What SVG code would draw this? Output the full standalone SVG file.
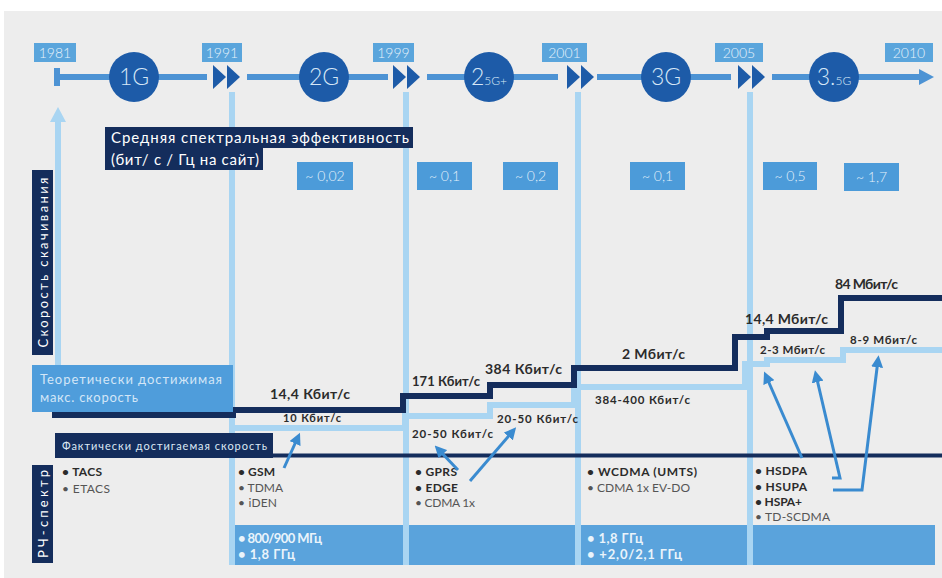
<svg xmlns="http://www.w3.org/2000/svg" width="942" height="578" viewBox="0 0 942 578">
<style>
.t{font-family:Lato,"Open Sans","Liberation Sans",sans-serif}
.yr{font-size:14px;fill:#e6f2fb;text-anchor:middle;font-weight:300}
.yb{fill:#5aa5dc}
.circ{fill:#1d5ba8}
.ct{font-size:23px;fill:#d6e7f7;text-anchor:middle;font-weight:300}
.tl{stroke:#4d93d4;stroke-width:6;fill:none}
.tri{fill:#1d5ba8}
.vl{stroke:#a9d5f2;stroke-width:6}
.navy{fill:#142d5c}
.sb{fill:#4c9bd9}
.st{font-size:14px;fill:#e3f0fa;text-anchor:middle;font-weight:300}
.sp{font-weight:700;fill:#2b2b2b}
.li{font-size:12px;fill:#555}
.lb{font-size:12px;fill:#2b2b2b;font-weight:700}
.band{fill:#5aa3dc}
.bt{font-size:13px;fill:#eaf4fb;font-weight:700}
.arr{stroke:#3a8bd0;stroke-width:3;fill:none;marker-end:url(#ah)}
</style>
<defs>
<marker id="ah" viewBox="0 0 10 10" refX="6" refY="5" markerWidth="4" markerHeight="4" orient="auto" markerUnits="strokeWidth">
<path d="M0,0 L10,5 L0,10 z" fill="#3a8bd0"/>
</marker>
</defs>
<rect x="0" y="0" width="942" height="578" fill="#ffffff"/>
<rect x="4" y="11" width="938" height="567" fill="#ededed"/>

<g id="timeline">
<line x1="57" y1="68" x2="57" y2="86" stroke="#4d93d4" stroke-width="6"/>
<path class="tl" d="M57,77 H207 M247,77 H388 M427,77 H558 M597,77 H731 M772,77 H922"/>
<polygon points="919,69 934,77 919,85" fill="#4d93d4"/>
<polygon class="tri" points="213,65 226,77 213,89"/>
<polygon class="tri" points="227,65 240,77 227,89"/>
<polygon class="tri" points="393,65 406,77 393,89"/>
<polygon class="tri" points="407,65 420,77 407,89"/>
<polygon class="tri" points="567,65 580,77 567,89"/>
<polygon class="tri" points="581,65 594,77 581,89"/>
<polygon class="tri" points="738,65 751,77 738,89"/>
<polygon class="tri" points="752,65 765,77 752,89"/>
</g>

<g id="years">
<rect class="yb" x="34" y="43" width="42" height="19"/><text class="t yr" x="55" y="58">1981</text>
<rect class="yb" x="202" y="43" width="40" height="19"/><text class="t yr" x="222" y="58">1991</text>
<rect class="yb" x="373" y="43" width="41" height="19"/><text class="t yr" x="393.5" y="58">1999</text>
<rect class="yb" x="542" y="43" width="45" height="19"/><text class="t yr" x="564.5" y="58">2001</text>
<rect class="yb" x="715" y="43" width="48" height="19"/><text class="t yr" x="739" y="58">2005</text>
<rect class="yb" x="885" y="43" width="48" height="19"/><text class="t yr" x="909" y="58">2010</text>
</g>

<g id="gen-1G"><circle class="circ" cx="134" cy="77" r="25"/><text class="t ct" x="134" y="85">1G</text></g>
<g id="gen-2G"><circle class="circ" cx="324" cy="77" r="25"/><text class="t ct" x="324" y="85">2G</text></g>
<g id="gen-25G"><circle class="circ" cx="489" cy="77" r="25"/><text class="t ct" x="489" y="85">2<tspan font-size="12">5G+</tspan></text></g>
<g id="gen-3G"><circle class="circ" cx="666" cy="77" r="25"/><text class="t ct" x="666" y="85">3G</text></g>
<g id="gen-35G"><circle class="circ" cx="834" cy="77" r="25"/><text class="t ct" x="834" y="85">3.<tspan font-size="12">5G</tspan></text></g>

<g id="dividers">
<line class="vl" x1="232" y1="92" x2="232" y2="565"/>
<line class="vl" x1="406" y1="92" x2="406" y2="565"/>
<line class="vl" x1="578" y1="92" x2="578" y2="565"/>
<line class="vl" x1="750" y1="92" x2="750" y2="565"/>
<line class="vl" x1="58" y1="120" x2="58" y2="366"/>
<polygon points="50,122 58,107 66,122" fill="#a9d5f2"/>
</g>

<g id="spectral-title">
<path class="navy" d="M105,127 H413 V148 H263 V170 H105 z"/>
<text class="t" x="111" y="143" font-size="15" fill="#ffffff" textLength="298">Средняя спектральная эффективность</text>
<text class="t" x="111" y="165" font-size="15" fill="#ffffff" textLength="148">(бит/ с / Гц на сайт)</text>
</g>

<g id="spectral-values">
<rect class="sb" x="297" y="162" width="56" height="28"/><text class="t st" x="325" y="181">~ 0,02</text>
<rect class="sb" x="417" y="162" width="55" height="28"/><text class="t st" x="444.5" y="181">~ 0,1</text>
<rect class="sb" x="503" y="162" width="55" height="28"/><text class="t st" x="530.5" y="181">~ 0,2</text>
<rect class="sb" x="630" y="162" width="55" height="28"/><text class="t st" x="657.5" y="181">~ 0,1</text>
<rect class="sb" x="763" y="162" width="54" height="28"/><text class="t st" x="790" y="181">~ 0,5</text>
<rect class="sb" x="844" y="163" width="55" height="28"/><text class="t st" x="871.5" y="182">~ 1,7</text>
</g>

<g id="axis-labels">
<rect class="navy" x="32" y="170" width="21" height="185"/>
<text class="t" transform="translate(47.5,262.5) rotate(-90)" font-size="13" fill="#ffffff" text-anchor="middle" textLength="170">Скорость скачивания</text>
<rect class="navy" x="32" y="465" width="21" height="98"/>
<text class="t" transform="translate(47.5,514) rotate(-90)" font-size="13" fill="#ffffff" text-anchor="middle" textLength="88">РЧ-спектр</text>
</g>

<g id="speed-lines">
<polyline points="233,428 405,428 405,416 490,416 490,405 574,405 574,387 745,387 745,364 767,364 767,360 843,360 843,350 942,350" fill="none" stroke="#a9d5f2" stroke-width="6"/>
<polyline points="52,415 233,415 233,410 403,410 403,396 490,396 490,385 574,385 574,368 735,368 735,337 767,337 767,331 841,331 841,298 942,298" fill="none" stroke="#142d5c" stroke-width="6"/>
<line x1="55" y1="455.5" x2="942" y2="455.5" stroke="#142d5c" stroke-width="4"/>
</g>

<g id="theoretical-label">
<rect x="32" y="365" width="201" height="47" fill="#4f9ddb"/>
<text class="t" x="40" y="384" font-size="13" fill="#d3e6f7" textLength="182">Теоретически достижимая</text>
<text class="t" x="40" y="402" font-size="13" fill="#d3e6f7" textLength="98">макс. скорость</text>
</g>

<g id="actual-label">
<rect class="navy" x="55" y="433" width="218" height="25"/>
<text class="t" x="62" y="450" font-size="11" fill="#dce9f5" textLength="205">Фактически достигаемая скорость</text>
</g>

<g id="speeds">
<text class="t sp" x="270" y="399" font-size="14" textLength="80">14,4 Кбит/с</text>
<text class="t sp" x="283" y="422" font-size="11" textLength="58">10 Кбит/с</text>
<text class="t sp" x="412" y="386" font-size="13" textLength="68">171 Кбит/с</text>
<text class="t sp" x="485" y="374" font-size="14" textLength="77">384 Кбит/с</text>
<text class="t sp" x="412" y="438" font-size="11.5" textLength="81">20-50 Кбит/с</text>
<text class="t sp" x="497" y="423" font-size="11.5" textLength="81">20-50 Кбит/с</text>
<text class="t sp" x="622" y="359" font-size="14" textLength="63">2 Мбит/с</text>
<text class="t sp" x="595" y="404" font-size="11.5" textLength="95">384-400 Кбит/с</text>
<text class="t sp" x="745" y="324" font-size="14" textLength="83">14,4 Мбит/с</text>
<text class="t sp" x="760" y="354" font-size="11.5" textLength="65">2-3 Мбит/с</text>
<text class="t sp" x="835" y="289" font-size="14" textLength="63">84 Мбит/с</text>
<text class="t sp" x="850" y="344" font-size="11.5" textLength="67">8-9 Мбит/с</text>
</g>

<g id="bands">
<rect class="band" x="235" y="525" width="168" height="40"/>
<rect class="band" x="409" y="525" width="166" height="40"/>
<rect class="band" x="581" y="525" width="166" height="40"/>
<rect class="band" x="753" y="525" width="182" height="40"/>
<text class="t bt" x="238" y="543" textLength="84">• 800/900 МГц</text>
<text class="t bt" x="238" y="559" textLength="57">• 1,8 ГГц</text>
<text class="t bt" x="587" y="543" textLength="56">• 1,8 ГГц</text>
<text class="t bt" x="587" y="559" textLength="95">• +2,0/2,1 ГГц</text>
</g>

<g id="tech-1G">
<text class="t lb" x="62" y="476" textLength="40">• TACS</text>
<text class="t li" x="62" y="493" textLength="48">• ETACS</text>
</g>
<g id="tech-2G">
<text class="t lb" x="238" y="476" textLength="37">• GSM</text>
<text class="t li" x="238" y="492" textLength="45">• TDMA</text>
<text class="t li" x="238" y="507" textLength="39">• iDEN</text>
</g>
<g id="tech-25G">
<text class="t lb" x="415" y="476" textLength="42">• GPRS</text>
<text class="t lb" x="415" y="492" textLength="43">• EDGE</text>
<text class="t li" x="415" y="507" textLength="60">• CDMA 1x</text>
</g>
<g id="tech-3G">
<text class="t lb" x="587" y="476" textLength="110">• WCDMA (UMTS)</text>
<text class="t li" x="587" y="492" textLength="103">• CDMA 1x EV-DO</text>
</g>
<g id="tech-35G">
<text class="t lb" x="755" y="475" textLength="52">• HSDPA</text>
<text class="t lb" x="755" y="491" textLength="52">• HSUPA</text>
<text class="t lb" x="755" y="506" textLength="47">• HSPA+</text>
<text class="t li" x="755" y="521" textLength="75">• TD-SCDMA</text>
</g>

<g id="connectors">
<path class="arr" d="M284,468 L298,437"/>
<path class="arr" d="M458,470 L438,449"/>
<path class="arr" d="M470,481 L513,431"/>
<path class="arr" d="M802,458 L766,376"/>
<path class="arr" d="M832,478 L840,478 L816,375"/>
<path class="arr" d="M833,490 L862,490 L878,360"/>
</g>
</svg>
